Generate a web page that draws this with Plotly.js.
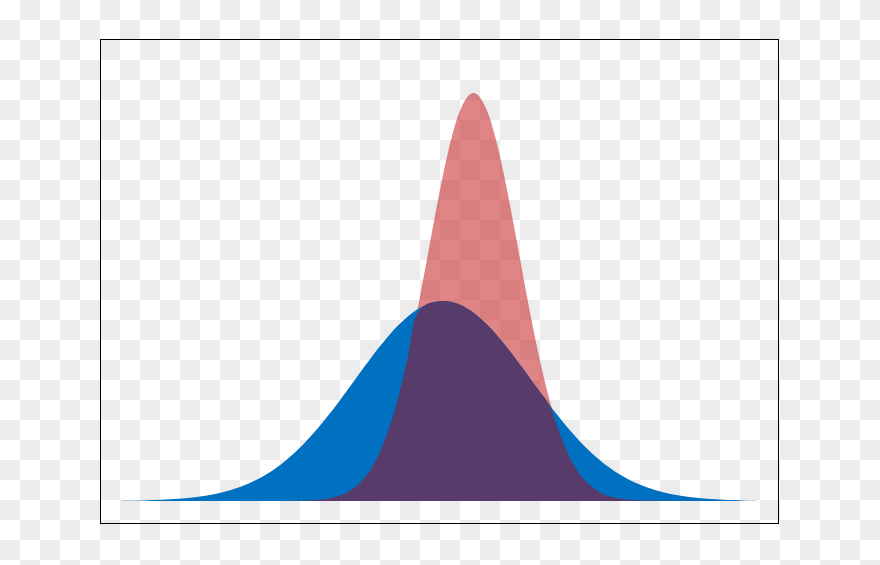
<!DOCTYPE html>
<html>
<head>
<meta charset="utf-8">
<script src="https://cdn.plot.ly/plotly-3.0.1.min.js"></script>
<style>
  html, body { margin: 0; padding: 0; }
  body {
    width: 880px; height: 565px; overflow: hidden;
    background: repeating-conic-gradient(#ececec 0% 25%, #ffffff 0% 50%) 0 0 / 40px 40px;
  }
  #chart { width: 880px; height: 565px; }
</style>
</head>
<body>
<div id="chart"></div>
<script>
// Shared x positions (in units of the wide curve's spread)
const xValues = [-3.64,-3.4,-3.2,-3.0,-2.8,-2.6,-2.4,-2.2,-2.0,-1.8,-1.6,-1.5,-1.4,-1.3,-1.2,-1.1,-1.0,-0.9,-0.8,-0.7,-0.6,-0.5,-0.4,-0.3,-0.2,-0.1,0,0.1,0.2,0.3,0.35,0.4,0.5,0.6,0.7,0.8,0.9,1.0,1.1,1.2,1.3,1.4,1.5,1.6,1.8,2.0,2.2,2.4,2.6,2.8,3.0,3.2,3.4,3.56];

// Wide (blue) curve heights
const blueValues = [0.0005,0.0012,0.0024,0.0044,0.0079,0.0136,0.0224,0.0356,0.0541,0.0792,0.1112,0.1299,0.1501,0.1718,0.1947,0.2184,0.2426,0.2668,0.2905,0.3131,0.3341,0.3530,0.3692,0.3824,0.3921,0.3980,0.4000,0.3980,0.3921,0.3824,0.3762,0.3692,0.3530,0.3341,0.3131,0.2905,0.2668,0.2426,0.2184,0.1947,0.1718,0.1501,0.1299,0.1112,0.0792,0.0541,0.0356,0.0224,0.0136,0.0079,0.0044,0.0024,0.0012,0.0007];

// Narrow (red) curve heights
const redValues = [0,0,0,0,0,0,0,0,0,0,0.0007,0.0014,0.0027,0.0051,0.0093,0.0162,0.0274,0.0445,0.0696,0.1050,0.1523,0.2132,0.2873,0.3730,0.4663,0.5615,0.6515,0.7280,0.7837,0.8127,0.8160,0.8117,0.7811,0.7239,0.6464,0.5559,0.4606,0.3675,0.2825,0.2092,0.1492,0.1026,0.0679,0.0433,0.0157,0.0049,0.0013,0.0003,0,0,0,0,0,0];

// Overlap region = where both curves cover
const overlapValues = blueValues.map((b, i) => Math.min(b, redValues[i]));

const base = {
  x: xValues, type: 'scatter', mode: 'lines', fill: 'tozeroy',
  line: { width: 0, shape: 'spline', smoothing: 1 }, hoverinfo: 'skip', showlegend: false
};

const traces = [
  Object.assign({}, base, { y: redValues, fillcolor: 'rgba(206,61,61,0.63)', line: Object.assign({}, base.line, {color: 'rgba(206,61,61,0)'}) }),
  Object.assign({}, base, { y: blueValues, fillcolor: '#0070c0', line: Object.assign({}, base.line, {color: 'rgba(0,112,192,0)'}) }),
  Object.assign({}, base, { y: overlapValues, fillcolor: '#573c6b', line: Object.assign({}, base.line, {color: 'rgba(87,60,107,0)'}) })
];

const axisCommon = {
  showline: true, mirror: true, linecolor: '#000', linewidth: 1.3,
  showgrid: false, zeroline: false, showticklabels: false, ticks: '', fixedrange: true
};

const layout = {
  width: 880, height: 565,
  margin: { l: 101, r: 102, t: 40, b: 42, pad: 0 },
  paper_bgcolor: 'rgba(0,0,0,0)',
  plot_bgcolor: 'rgba(0,0,0,0)',
  xaxis: Object.assign({}, axisCommon, { range: [-3.886, 3.807] }),
  yaxis: Object.assign({}, axisCommon, { range: [-0.044, 0.922] }),
  showlegend: false
};

Plotly.newPlot('chart', traces, layout, { displayModeBar: false, staticPlot: true });
</script>
</body>
</html>
